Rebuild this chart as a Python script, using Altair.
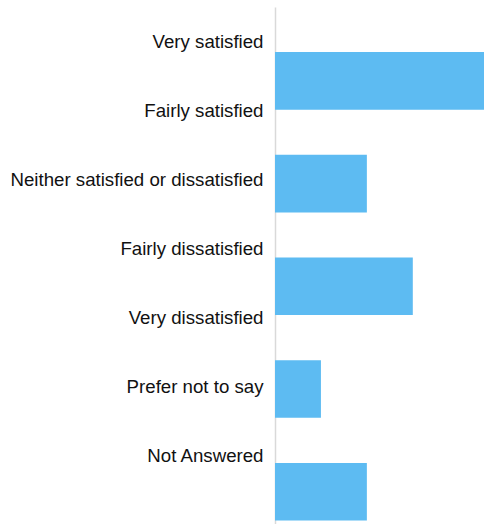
import altair as alt
import pandas as pd

labels = [
    "Very satisfied ",
    "Fairly satisfied",
    "Neither satisfied or dissatisfied\u2005",
    "Fairly dissatisfied",
    "Very dissatisfied",
    "Prefer not to say",
    "Not Answered",
]
bar_ids = ["1", "2", "3", "4", "5"]
bar_values = [5, 2, 3, 1, 2]

label_df = pd.DataFrame({"label": labels})
bar_df = pd.DataFrame({"bar": bar_ids, "value": bar_values})

label_layer = alt.Chart(label_df).mark_bar(opacity=0).encode(
    y=alt.Y(
        "label:N",
        sort=labels,
        title=None,
        scale=alt.Scale(type="band", paddingInner=0, paddingOuter=0.246, align=0),
        axis=alt.Axis(
            labelFont="Liberation Sans",
            labelFontSize=18.67,
            labelColor="#111111",
            labelPadding=12,
            labelLimit=400,
            ticks=False,
            domainColor="#d9d9d9",
            domainWidth=1.5,
            grid=False,
        ),
    ),
    x=alt.value(0),
    x2=alt.value(1),
)

bar_layer = alt.Chart(bar_df).mark_bar(color="#5DBBF2", clip=True).encode(
    y=alt.Y(
        "bar:N",
        sort=bar_ids,
        title=None,
        axis=None,
        scale=alt.Scale(type="band", paddingInner=0.44, paddingOuter=0.236, align=0.93),
    ),
    x=alt.X("value:Q", axis=None, scale=alt.Scale(domain=[0, 4.55], nice=False)),
)

chart = (
    alt.layer(label_layer, bar_layer)
    .resolve_scale(y="independent")
    .properties(
        width=209,
        height=517,
        autosize=alt.AutoSizeParams(type="none"),
        padding={"left": 275, "top": 7, "right": 0, "bottom": 0},
    )
    .configure_view(stroke=None)
)

chart.save("out.html", embed_options={"renderer": "svg", "actions": False})
